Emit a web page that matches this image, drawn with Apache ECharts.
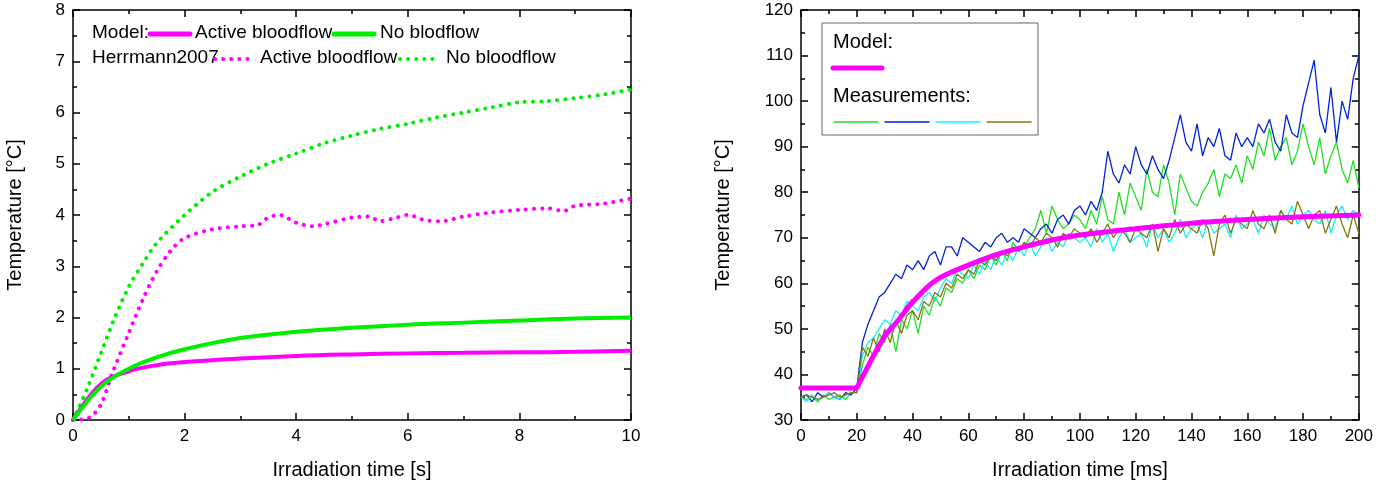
<!DOCTYPE html>
<html>
<head>
<meta charset="utf-8">
<script src="https://cdn.jsdelivr.net/npm/echarts@6/dist/echarts.min.js"></script>
<style>html,body{margin:0;padding:0;background:#fff}#c{width:1376px;height:488px}</style>
</head>
<body>
<div id="c"></div>
<script>
// left chart: model curves and Herrmann2007 data
const modelActive = [[0,0],[0.5,0.7],[1,0.95],[1.5,1.07],[2,1.13],[3,1.2],[4,1.25],[5,1.28],[6,1.3],[7,1.31],[8,1.32],[9,1.33],[10,1.35]]
const modelNoFlow = [[0,0],[0.5,0.65],[1,1.0],[1.5,1.22],[2,1.38],[3,1.6],[4,1.72],[5,1.8],[6,1.86],[7,1.9],[8,1.94],[9,1.98],[10,2.0]]
const herrNoFlow = [[0,0],[0.25,0.6],[0.5,1.3],[0.75,2.0],[1,2.6],[1.25,3.05],[1.5,3.45],[2,4.0],[2.5,4.45],[3,4.75],[3.5,5.0],[4,5.2],[4.5,5.4],[5,5.55],[5.5,5.68],[6,5.78],[6.5,5.9],[7,6.0],[7.5,6.1],[8,6.2],[8.5,6.22],[9,6.28],[9.5,6.35],[10,6.45]]
const herrActive = [[0,0],[0.3,0.05],[0.5,0.3],[0.7,0.9],[1,1.7],[1.25,2.35],[1.5,2.9],[1.75,3.3],[2,3.55],[2.5,3.72],[3,3.78],[3.3,3.8],[3.5,3.95],[3.7,4.0],[4,3.85],[4.3,3.78],[4.5,3.82],[5,3.95],[5.3,3.97],[5.5,3.88],[5.8,3.95],[6,4.0],[6.3,3.9],[6.6,3.88],[7,3.97],[7.5,4.05],[8,4.1],[8.5,4.13],[8.8,4.08],[9,4.18],[9.5,4.22],[10,4.32]]

// right chart: model and measurements (2 ms steps)
const modelRightA = [[0,37],[20,37],[25,43],[30,48.5],[35,52],[40,56]]
const modelRightB = [[38,54.5],[45,59],[50,61.3],[60,64],[70,66.3],[80,68],[90,69.5],[100,70.6],[120,72],[140,73.2],[160,74],[180,74.6],[200,75]]
const times = [0,2,4,6,8,10,12,14,16,18,20,22,24,26,28,30,32,34,36,38,40,42,44,46,48,50,52,54,56,58,60,62,64,66,68,70,72,74,76,78,80,82,84,86,88,90,92,94,96,98,100,102,104,106,108,110,112,114,116,118,120,122,124,126,128,130,132,134,136,138,140,142,144,146,148,150,152,154,156,158,160,162,164,166,168,170,172,174,176,178,180,182,184,186,188,190,192,194,196,198,200]
const measGreen = [35,34.5,35,34,35.5,34.5,35,35.5,34.5,36,36, 42,46,44,49,47,51,45,52,50,54, 49,55,53,57,55,59,58,61,60,63, 61,64,63,66,64,67,65,69,67,68, 70,72,76,71,77,74,72,73,75,74, 72,76,73,79,74,73,80,75,82,79, 76,85,80,79,86,82,75,84,81,78, 77,80,82,85,79,84,83,86,82,88, 85,91,88,94,87,90,92,86,89,95, 90,86,92,84,88,91,85,82,87,81]
const measBlue = [35,35.5,34,36,35,36,35,34.5,36,35.5,37, 47,51,54,57,58,60,62,61,64,63, 65,63,66,67,64,68,68,66,70,69, 68,67,69,68,70,71,69,70,69,72, 71,70,72,73,71,74,75,73,76,77, 75,78,76,80,89,84,82,86,84,90, 86,84,88,85,83,87,92,97,91,89, 95,88,92,90,94,88,87,93,90,92, 90,95,93,96,91,89,97,93,92,99, 104,109,97,93,103,91,100,96,105,110]
const measCyan = [35,34,35.5,34.5,35,36,35,34.5,35.5,36,36, 44,47,48,50,52,51,54,53,56,55, 54,57,58,56,59,61,60,63,62,61, 64,62,65,63,66,64,67,65,68,66, 69,66,68,70,67,69,68,71,70,69, 70,68,72,69,71,67,70,72,69,70, 71,68,73,70,72,69,71,74,70,72, 73,70,74,71,72,73,70,75,72,73, 74,71,75,73,72,76,74,77,73,75, 76,74,73,76,71,75,77,74,76,75]
const measOlive = [35,35.5,35,34.5,35,35.5,36,35,35.5,36,36, 46,44,48,45,50,47,52,49,53,54, 52,56,55,58,57,60,59,62,61,63, 62,65,64,66,65,67,66,68,67,69, 68,70,69,71,70,68,71,70,72,71, 70,72,69,71,73,70,72,71,69,72, 71,70,73,67,72,70,74,71,73,72, 71,74,72,66,73,75,71,74,73,72, 76,73,72,75,71,76,74,73,78,75, 72,75,76,71,74,77,73,70,75,71]

const MAG = '#ff00ff', GRN = '#00ee00'
const font = 'Liberation Sans, Arial, sans-serif'
const pair = ys => ys.map((y, i) => [times[i], y])

function axis(pos, grid, min, max, interval, label, name, gap) {
  const a = {
    type: 'value', gridIndex: grid, position: pos, min: min, max: max, interval: interval,
    axisLine: {show: true, onZero: false, lineStyle: {color: '#000', width: 1.5}},
    axisTick: {show: true, inside: true, length: 7, lineStyle: {color: '#000', width: 1.5}},
    minorTick: {show: true, splitNumber: 2, length: 4, lineStyle: {color: '#000', width: 1.5}},
    splitLine: {show: false},
    axisLabel: {show: label, color: '#000', fontSize: 17, fontFamily: font, margin: 8}
  }
  if (name) {
    a.name = name; a.nameLocation = 'middle'; a.nameGap = gap
    a.nameTextStyle = {color: '#000', fontSize: 20, fontFamily: font}
  }
  return a
}

const dotted = (c) => ({color: c, width: 4, type: [0.1, 8], cap: 'round'})
const txt = (x, y, s, size) => ({type: 'text', left: x, top: y, style: {text: s, fontSize: size, fontFamily: font, fill: '#000'}})
const seg = (x1, x2, y, c, w, dash) => ({type: 'line', shape: {x1: x1, y1: y, x2: x2, y2: y},
  style: {stroke: c, lineWidth: w, lineCap: 'round', lineDash: dash || null}})

const chart = echarts.init(document.getElementById('c'))
chart.setOption({
  animation: false,
  grid: [
    {left: 73, top: 10, width: 558, height: 410},
    {left: 801, top: 10, width: 561, height: 410}
  ],
  xAxis: [
    axis('bottom', 0, 0, 10, 2, true, 'Irradiation time [s]', 40),
    axis('top', 0, 0, 10, 2, false),
    axis('bottom', 1, 0, 200, 20, true, 'Irradiation time [ms]', 40),
    axis('top', 1, 0, 200, 20, false)
  ],
  yAxis: [
    axis('left', 0, 0, 8, 1, true, 'Temperature [°C]', 48),
    axis('right', 0, 0, 8, 1, false),
    axis('left', 1, 30, 120, 10, true, 'Temperature [°C]', 68),
    axis('right', 1, 30, 120, 10, false)
  ],
  series: [
    {type: 'line', xAxisIndex: 0, yAxisIndex: 0, data: herrNoFlow, showSymbol: false, smooth: 0.3, lineStyle: dotted(GRN)},
    {type: 'line', xAxisIndex: 0, yAxisIndex: 0, data: herrActive, showSymbol: false, smooth: 0.3, lineStyle: dotted(MAG)},
    {type: 'line', xAxisIndex: 0, yAxisIndex: 0, data: modelActive, showSymbol: false, smooth: 0.4, lineStyle: {color: MAG, width: 4}},
    {type: 'line', xAxisIndex: 0, yAxisIndex: 0, data: modelNoFlow, showSymbol: false, smooth: 0.4, lineStyle: {color: GRN, width: 4}},
    {type: 'line', xAxisIndex: 2, yAxisIndex: 2, data: pair(measGreen), showSymbol: false, lineStyle: {color: '#22dd22', width: 1.3}},
    {type: 'line', xAxisIndex: 2, yAxisIndex: 2, data: pair(measBlue), showSymbol: false, lineStyle: {color: '#0022dd', width: 1.3}},
    {type: 'line', xAxisIndex: 2, yAxisIndex: 2, data: pair(measCyan), showSymbol: false, lineStyle: {color: '#11eeff', width: 1.3}},
    {type: 'line', xAxisIndex: 2, yAxisIndex: 2, data: pair(measOlive), showSymbol: false, lineStyle: {color: '#887711', width: 1.3}},
    {type: 'line', xAxisIndex: 2, yAxisIndex: 2, data: modelRightA, showSymbol: false, lineStyle: {color: MAG, width: 5, cap: 'round'}, z: 5},
    {type: 'line', xAxisIndex: 2, yAxisIndex: 2, data: modelRightB, showSymbol: false, smooth: 0.3, lineStyle: {color: MAG, width: 5, cap: 'round'}, z: 5}
  ],
  graphic: [
    txt(92, 23, 'Model:', 19), seg(150, 190, 34, MAG, 5), txt(195, 23, 'Active bloodflow', 19),
    seg(334, 374, 34, GRN, 5), txt(380, 23, 'No blodflow', 19),
    txt(92, 48, 'Herrmann2007', 19), seg(215, 252, 59, MAG, 4, [0.1, 8]), txt(260, 48, 'Active bloodflow', 19),
    seg(400, 437, 59, GRN, 4, [0.1, 8]), txt(446, 48, 'No bloodflow', 19),
    {type: 'rect', shape: {x: 822, y: 23, width: 216, height: 112}, style: {fill: '#fff', stroke: '#666', lineWidth: 1}, z: 10},
    {...txt(833, 32, 'Model:', 20), z: 11}, {...seg(833, 882, 68, MAG, 5), z: 11},
    {...txt(833, 86, 'Measurements:', 20), z: 11},
    {...seg(834, 878, 122, '#22dd22', 1.5), z: 11}, {...seg(885, 929, 122, '#0022dd', 1.5), z: 11},
    {...seg(936, 980, 122, '#11eeff', 1.5), z: 11}, {...seg(987, 1031, 122, '#887711', 1.5), z: 11}
  ]
})
</script>
</body>
</html>
